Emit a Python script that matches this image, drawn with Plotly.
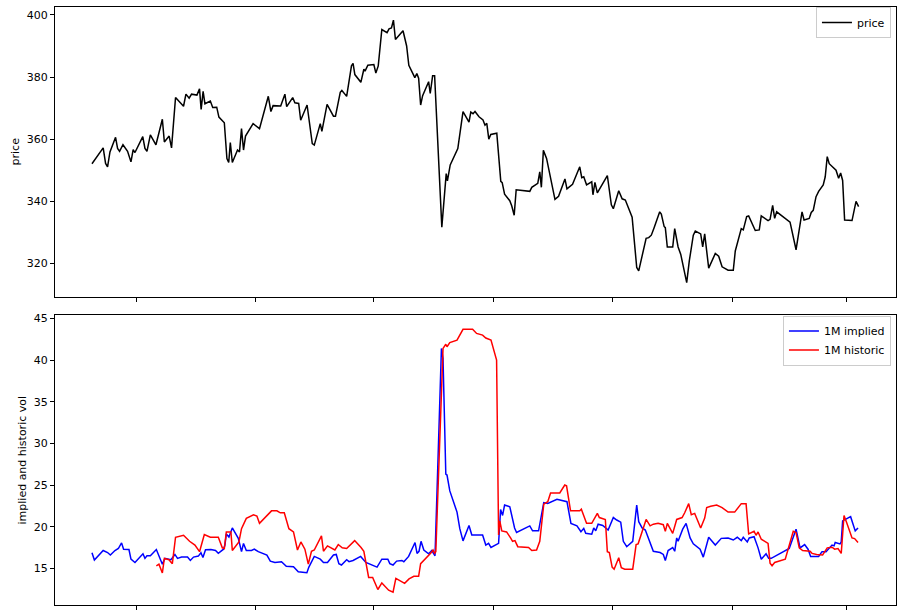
import plotly.graph_objects as go

# ---------------- data (x in trading-day units) ----------------
price_x = [0, 2.8, 3.4, 3.9, 4.5, 5.9, 6.4, 6.9, 7.75, 8.9, 9.75, 10.3, 10.75, 12.7, 13.25,
           13.75, 14.6, 16, 17.6, 18.1, 19.3, 19.9, 20.9, 22.9, 23.5, 24.3, 24.9, 26.25, 26.9,
           27.3, 27.8, 28.25, 29.6, 30.2, 31.2, 31.75, 33.1, 33.75, 34.2, 34.6, 35.1, 36.4,
           36.9, 37.4, 37.9, 38.4, 40.3, 41.9, 44.1, 44.75, 45.3, 47.2, 48.25, 48.7, 50.2,
           50.75, 51.7, 52.2, 53.8, 55.1, 55.6, 57.1, 57.5, 58.8, 60.4, 60.9, 62.1, 62.5,
           63.25, 63.7, 64.9, 65.3, 65.75, 67.25, 68, 68.3, 69, 70.5, 71, 71.6, 72.5, 73.8,
           74.3, 74.9, 75.4, 75.9, 77.8, 78.7, 79.25, 80.75, 81.25, 81.7, 82.2, 82.7, 84.2,
           84.6, 85.2, 85.7, 87.5, 88.6, 88.9, 89.6, 91.5, 92.8, 94.3, 94.75, 95.3, 95.8,
           96.8, 97.8, 98.3, 98.75, 99.25, 99.75, 101.25, 102.25, 102.6, 103.2, 104.5, 105,
           105.6, 106.1, 109.5, 110, 111.5, 112, 112.4, 112.9, 113.7, 115.2, 115.8, 116.7,
           118.3, 118.8, 120.2, 122, 122.5, 123, 123.7, 125, 125.3, 125.8, 126.4, 128.9,
           129.9, 130.4, 131.75, 132.6, 133.4, 135.1, 136.25, 136.75, 138.6, 139.25, 139.9,
           140.6, 142, 142.4, 143.1, 143.4, 143.9, 145.25, 145.75, 146.6, 147.25, 148.75,
           149.4, 150.4, 150.9, 152.25, 152.75, 153.25, 154.25, 155.9, 156.75, 157.6, 159.1,
           160.4, 160.9, 162.4, 162.9, 163.75, 164.25, 165.9, 166.9, 167.4, 169.1, 169.6,
           170.25, 170.75, 171.25, 174.6, 176.1, 177.6, 178.1, 179.4, 179.9, 180.4, 181.1,
           181.75, 182.9, 183.4, 183.9, 184.4, 186.1, 186.75, 187.25, 187.75, 188.25, 190.1,
           191.1, 191.75]
price = [352.1, 357.2, 352.2, 351.1, 355.9, 360.6, 357.0, 356.1, 358.2, 356.1, 352.7, 356.6,
         355.7, 360.8, 357.0, 356.1, 361.4, 358.2, 366.4, 359.1, 361.0, 357.2, 373.4, 370.6,
         374.5, 373.2, 374.5, 374.2, 376.2, 369.6, 375.4, 371.4, 372.3, 370.2, 370.3, 367.1,
         365.3, 353.8, 352.5, 358.9, 352.5, 356.5, 355.9, 363.4, 356.5, 361.0, 365.0, 363.4,
         373.8, 368.9, 370.8, 370.7, 374.5, 370.5, 373.4, 371.7, 371.5, 366.1, 371.0, 358.6,
         358.1, 365.0, 362.5, 371.2, 367.4, 367.4, 375.1, 375.7, 374.5, 373.8, 383.6, 384.4,
         380.8, 378.3, 382.5, 381.9, 383.8, 384.0, 381.3, 383.6, 395.3, 394.3, 395.5, 395.8,
         398.3, 392.1, 394.9, 390.0, 383.8, 379.8, 381.1, 379.6, 371.0, 374.0, 378.5, 374.7,
         380.4, 380.4, 331.7, 348.9, 346.6, 351.7, 357.0, 368.9, 365.5, 368.7, 368.2, 368.9,
         367.2, 366.2, 364.5, 365.1, 360.0, 361.5, 361.9, 346.4, 346.0, 342.3, 340.2, 338.5,
         335.5, 343.7, 343.2, 344.5, 345.8, 349.5, 344.5, 356.4, 353.8, 344.5, 340.6, 341.6,
         347.2, 344.0, 345.5, 351.1, 347.6, 347.9, 345.3, 346.3, 342.1, 346.1, 342.7, 348.3,
         338.9, 337.6, 343.4, 340.8, 340.4, 334.9, 318.7, 317.6, 328.1, 328.3, 329.1, 331.5,
         336.6, 335.9, 331.9, 331.5, 325.3, 325.3, 331.2, 325.3, 323.0, 313.8, 320.8, 329.1,
         330.4, 329.5, 325.3, 329.5, 318.5, 323.2, 322.3, 318.9, 317.8, 317.8, 324.0, 331.2,
         330.8, 335.1, 335.3, 330.6, 330.8, 335.3, 333.8, 334.2, 338.7, 334.5, 336.6, 333.3,
         324.4, 336.6, 334.0, 334.5, 336.4, 337.1, 341.5, 343.2, 345.3, 347.9, 354.4, 352.1,
         350.0, 347.4, 349.1, 346.7, 334.0, 333.8, 340.0, 338.3]

implied_x = [0, 0.6, 2.8, 3.9, 4.6, 5.75, 6.6, 7.4, 7.9, 9.25, 9.75, 10.75, 12.75, 13.25,
             13.75, 14.6, 16.1, 16.9, 17.6, 18.25, 19.75, 20.75, 21.4, 22.4, 23.9, 24.6, 25.4,
             26.6, 27.25, 27.75, 28.4, 29.75, 30.9, 31.6, 32.9, 33.25, 33.6, 34.25, 35.1, 36.6,
             37.4, 37.9, 38.6, 39.9, 40.6, 41.6, 43.75, 44.6, 45.75, 47.4, 48.6, 50.4, 51.6,
             53.75, 54.25, 55.6, 57.1, 57.9, 58.9, 60.4, 61.1, 61.75, 62.4, 63.7, 64.3, 65.3,
             67.2, 68.5, 71.3, 72.5, 74, 74.5, 75.3, 76.2, 77.5, 78, 79.2, 80.8, 81.3, 81.8,
             82.3, 83, 84.2, 85, 85.8, 87.4, 87.8, 88.5, 88.8, 89.5, 91.3, 92, 92.8, 94.3, 95,
             97.7, 98.5, 99.2, 99.8, 101.7, 102.2, 102.7, 103.2, 104.5, 105.2, 105.7, 106.2,
             109.5, 110.2, 111.7, 113, 114, 116.3, 118.8, 119.8, 121.3, 122.3, 123, 123.5, 125,
             125.5, 126, 126.6, 127.75, 129.1, 130.4, 131.25, 132.25, 132.9, 133.75, 135.25,
             136.25, 136.75, 137.6, 138.4, 139.4, 140.4, 142.1, 142.9, 143.4, 144.1, 145.25,
             145.75, 146.25, 146.6, 147.75, 148.6, 149.6, 150.4, 152.1, 152.9, 154.25, 155.9,
             157.4, 159.1, 160.4, 161.4, 162.4, 162.9, 163.9, 164.4, 165.6, 166.6, 167.4,
             168.6, 169.25, 169.9, 174.4, 176.1, 177.1, 178.25, 179.1, 179.75, 181.75, 182.6,
             183.6, 185.1, 185.6, 185.9, 187.1, 187.4, 187.75, 189.75, 190.9, 191.6]
implied = [16.87, 15.99, 17.14, 16.9, 16.6, 17.14, 17.38, 18.06, 17.3, 17.26, 16.1, 15.7,
           16.75, 16.2, 16.5, 16.5, 17.26, 16.3, 15.5, 16.2, 16.04, 16.67, 16.2, 16.35, 16.35,
           15.95, 16.35, 16.47, 16.87, 16.3, 17.23, 17.26, 17.14, 16.8, 17.3, 17.8, 19.13,
           18.77, 19.85, 18.6, 17.0, 17.98, 17.14, 17.14, 17.3, 17.0, 16.6, 15.87, 15.71, 15.8,
           15.24, 15.2, 14.6, 14.48, 15.15, 16.43, 16.1, 15.7, 15.7, 16.6, 16.67, 15.56, 15.4,
           16.04, 15.8, 15.95, 16.43, 15.71, 15.15, 16.1, 16.1, 15.56, 15.4, 15.87, 15.95, 15.8,
           16.43, 18.1, 16.8, 17.05, 18.25, 17.2, 16.75, 17.14, 16.5, 41.4, 40.2, 26.3, 26.2,
           24.3, 21.75, 19.76, 18.3, 20.15, 19.0, 19.0, 17.8, 18.0, 17.5, 18.0, 22.06, 21.35,
           22.6, 22.4, 21.0, 19.85, 19.3, 20.1, 19.5, 19.5, 22.9, 22.8, 23.3, 23.0, 20.4, 20.1,
           19.4, 19.8, 19.2, 19.1, 19.85, 19.5, 20.3, 20.15, 19.6, 21.1, 20.8, 20.55, 18.25,
           17.6, 18.25, 22.6, 20.6, 19.85, 19.6, 18.25, 17.05, 16.9, 16.67, 15.95, 17.14, 17.5,
           17.05, 18.65, 18.25, 19.7, 20.4, 18.65, 17.94, 17.3, 16.35, 18.73, 17.8, 18.6,
           18.65, 18.4, 18.73, 18.33, 18.73, 18.17, 18.65, 18.8, 17.46, 16.1, 16.75, 16.2, 16.2,
           17.38, 19.7, 17.46, 17.86, 17.3, 16.43, 16.43, 17.0, 17.0, 17.8, 17.7, 18.1, 17.94,
           18.17, 20.7, 21.2, 19.5, 19.85]

historic_x = [16.1, 16.75, 17.6, 18.1, 19.25, 20.1, 20.9, 22.9, 24.4, 25.75, 26.9, 28.1, 29.6,
              31.6, 32.6, 33.1, 33.6, 34.75, 35.1, 36.75, 37.4, 38.6, 40.4, 41.25, 41.9, 43.9,
              44.6, 44.9, 46.25, 47.1, 48.1, 49.25, 50.4, 51.4, 52.25, 53.25, 54.1, 54.9, 55.6,
              57.4, 57.9, 58.9, 60.75, 61.6, 62.6, 63.7, 65, 65.7, 67.3, 68, 69.2, 70.2, 71.5,
              72.5, 74.2, 75.3, 76, 78.2, 79.3, 80.5, 81.7, 82.2, 84.7, 85.3, 85.7, 86, 87.8,
              88.5, 88.8, 89.5, 91.3, 92.8, 95.2, 96.2, 97.7, 98.5, 99.8, 101.2, 101.7, 102,
              102.5, 103.7, 104.7, 105.2, 105.8, 106.5, 109.2, 110, 111.2, 112, 113, 114, 114.7,
              117, 118.25, 118.7, 119.7, 122, 122.4, 123.7, 125, 126.2, 126.4, 126.9, 128.4,
              128.9, 129.4, 130.1, 130.6, 131.75, 132.4, 133.25, 135.25, 136.1, 136.6, 138.6,
              139.6, 140.4, 141.6, 142.9, 143.4, 143.9, 145.25, 146.25, 147.6, 148.25, 149.25,
              149.9, 150.75, 152.25, 153.25, 153.75, 154.75, 156.25, 157.6, 159.1, 160.75,
              162.4, 163.6, 164.25, 165.6, 166.1, 166.6, 167.4, 168.25, 169.1, 169.6, 170.1,
              170.75, 173.4, 175.4, 176.1, 176.9, 177.75, 179.6, 180.1, 181.25, 182.75, 183.9,
              185.1, 185.75, 186.6, 187.4, 188.1, 188.75, 190.1, 190.75, 191.6]
historic = [15.3, 15.5, 14.44, 16.2, 16.04, 15.56, 18.73, 18.97, 18.25, 17.8, 17.0, 19.05, 18.73,
            18.73, 17.46, 17.38, 19.37, 19.37, 17.14, 18.17, 19.76, 21.0, 21.43, 21.27, 20.4,
            21.5, 21.75, 21.9, 21.9, 21.67, 21.67, 19.76, 19.37, 17.2, 18.17, 17.3, 15.5, 17.05,
            17.2, 18.9, 17.05, 17.7, 17.2, 17.86, 17.46, 17.38, 17.94, 18.33, 17.5, 17.05, 13.9,
            13.9, 12.46, 13.25, 12.38, 12.14, 13.8, 13.2, 13.73, 14.05, 14.05, 15.56, 16.8, 17.2,
            16.8, 17.0, 41.4, 41.9, 41.6, 42.1, 42.4, 43.7, 43.7, 43.2, 43.0, 42.65, 42.4, 40.0,
            19.0, 20.7, 19.5, 19.37, 18.65, 18.25, 18.33, 17.6, 17.5, 17.14, 17.2, 18.25, 22.7,
            23.0, 24.05, 24.05, 25.0, 24.9, 21.9, 21.9, 22.1, 20.4, 20.4, 21.5, 21.6, 21.1,
            20.87, 17.0, 16.9, 15.15, 14.9, 16.27, 15.08, 14.9, 14.9, 17.86, 17.94, 20.87, 20.1,
            20.3, 20.4, 20.24, 19.44, 20.4, 19.2, 20.87, 21.1, 21.67, 22.77, 21.43, 21.6, 19.85,
            21.04, 22.3, 22.46, 22.6, 22.3, 21.75, 21.75, 22.77, 22.77, 19.13, 19.44, 18.97,
            19.37, 18.5, 18.25, 18.0, 15.63, 15.32, 15.7, 16.1, 19.44, 19.3, 17.46, 17.14, 17.05,
            16.8, 16.67, 16.6, 17.46, 17.54, 17.3, 17.38, 16.8, 21.35, 20.5, 18.65, 18.57, 18.1]

x_ticks = [11.25, 40.9, 70.5, 100.5, 130.25, 160.25, 188.75]
price_ticks = [320, 340, 360, 380, 400]
vol_ticks = [15, 20, 25, 30, 35, 40, 45]

FONT = "DejaVu Sans"
FS = 11

fig = go.Figure()
fig.add_trace(go.Scatter(x=price_x, y=price, mode="lines", name="price",
                         line=dict(color="black", width=1.5), xaxis="x", yaxis="y",
                         legend="legend"))
fig.add_trace(go.Scatter(x=implied_x, y=implied, mode="lines", name="1M implied",
                         line=dict(color="#0000ff", width=1.5), xaxis="x2", yaxis="y2",
                         legend="legend2"))
fig.add_trace(go.Scatter(x=historic_x, y=historic, mode="lines", name="1M historic",
                         line=dict(color="#ff0000", width=1.5), xaxis="x2", yaxis="y2",
                         legend="legend2"))

xcommon = dict(range=[-9.25, 201.1], tickvals=x_ticks, showticklabels=False,
               ticks="outside", ticklen=4, tickwidth=1, tickcolor="black",
               showline=True, mirror=True, linecolor="black", linewidth=1,
               showgrid=False, zeroline=False)
ycommon = dict(ticks="outside", ticklen=4, tickwidth=1, tickcolor="black",
               showline=True, mirror=True, linecolor="black", linewidth=1,
               showgrid=False, zeroline=False,
               tickfont=dict(family=FONT, size=FS, color="black"))

legend_style = dict(bgcolor="rgba(255,255,255,0.8)", bordercolor="#cccccc", borderwidth=1,
                    font=dict(family=FONT, size=FS, color="black"),
                    xanchor="right", yanchor="top", itemwidth=30, tracegroupgap=0)

fig.update_layout(
    width=905, height=613,
    margin=dict(l=55, r=9, t=4, b=6),
    paper_bgcolor="white", plot_bgcolor="white",
    font=dict(family=FONT, size=FS, color="black"),
    xaxis=dict(domain=[0, 1], anchor="y", **xcommon),
    yaxis=dict(domain=[0.5158, 1], anchor="x", range=[309.34, 402.55], tickvals=price_ticks,
               title=dict(text="price", font=dict(family=FONT, size=FS), standoff=4),
               **ycommon),
    xaxis2=dict(domain=[0, 1], anchor="y2", matches="x", **xcommon),
    yaxis2=dict(domain=[0, 0.4842], anchor="x2", range=[10.6, 45.36], tickvals=vol_ticks,
                title=dict(text="implied and historic vol", font=dict(family=FONT, size=FS),
                           standoff=4),
                **ycommon),
    legend=dict(x=0.994, y=1.0, **legend_style),
    legend2=dict(x=0.994, y=0.484, **legend_style),
    showlegend=True,
)

fig.write_html("out.html", config={"displayModeBar": False},
               post_script="document.body.style.margin='0';document.body.style.overflow='hidden';")
